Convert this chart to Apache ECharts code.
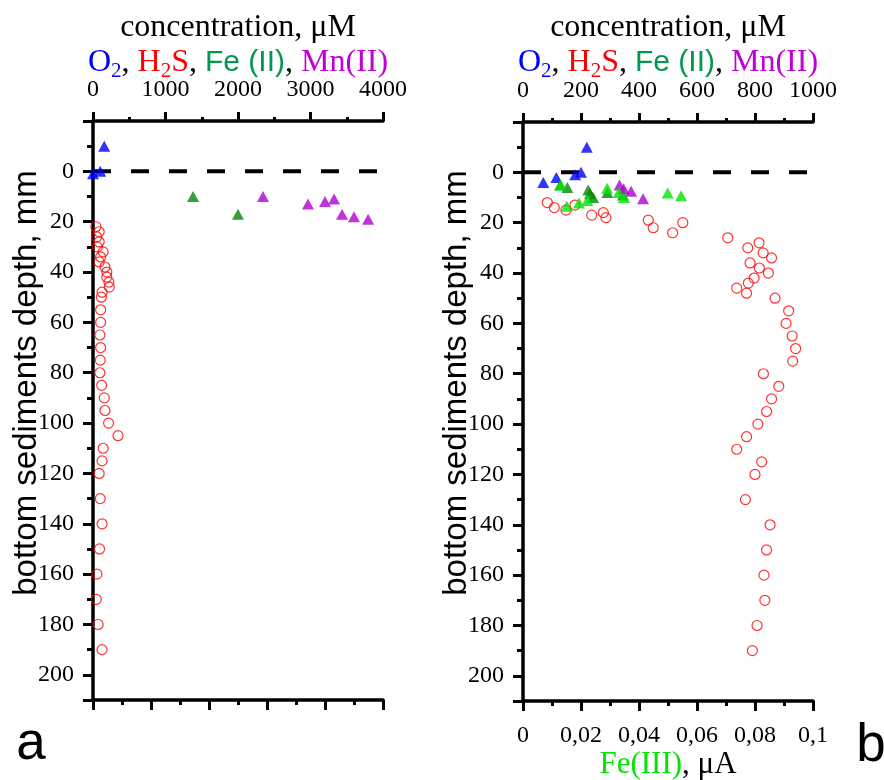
<!DOCTYPE html>
<html>
<head>
<meta charset="utf-8">
<script src="https://cdn.jsdelivr.net/npm/echarts@6/dist/echarts.min.js"></script>
<style>
  html, body { margin: 0; padding: 0; background: #fff; }
  #chart { width: 884px; height: 780px; }
</style>
</head>
<body>
<div id="chart"></div>
<script>
// panel a: [concentration uM, depth mm]
const o2A = [[0, 1], [100, 0], [155, -10]]
const feA = [[1380, 10], [2000, 17]]
const mnA = [[2345, 10], [2965, 13], [3200, 12], [3325, 11], [3435, 17], [3600, 18], [3795, 19]]
const h2sA = [[40, 22], [85, 24], [50, 26], [85, 28], [60, 30], [140, 32], [105, 34], [85, 36], [165, 38],
  [190, 40], [190, 42], [220, 44], [225, 46], [125, 48], [115, 50], [105, 55], [105, 60], [95, 65],
  [105, 70], [100, 75], [95, 80], [120, 85], [155, 90], [165, 95], [215, 100], [345, 105], [140, 110],
  [125, 115], [85, 120], [100, 130], [125, 140], [90, 150], [55, 160], [45, 170], [70, 180], [125, 190]]

// panel b
const o2B = [[70, 4], [115, 2], [180, 1], [200, 0], [220, -10]]
const feB = [[128, 5], [153, 6], [225, 7], [231, 8.5], [242, 10], [291, 8], [345, 9]]
const mnB = [[333, 5], [347, 6.5], [373, 7.5], [414, 10.5]]
const fe3B = [[0.013, 5], [0.0151, 13.5], [0.0193, 12.2], [0.0222, 11.2], [0.029, 6.3], [0.033, 8],
  [0.0348, 10], [0.0499, 8.2], [0.0545, 9.3]]
const h2sB = [[84, 12], [108, 14], [148, 15], [179, 13], [237, 17], [277, 16], [286, 18], [432, 19],
  [449, 22], [516, 24], [551, 20], [706, 26], [775, 30], [814, 28], [828, 32], [857, 34], [783, 36],
  [815, 38], [846, 40], [797, 42], [777, 44], [737, 46], [771, 48], [869, 50], [916, 55], [907, 60],
  [928, 65], [940, 70], [930, 75], [829, 80], [882, 85], [857, 90], [840, 95], [810, 100], [771, 105],
  [737, 110], [823, 115], [800, 120], [767, 130], [852, 140], [840, 150], [831, 160], [834, 170],
  [807, 180], [791, 190]]

const surfaceA = [[0, 0], [4000, 0]]
const surfaceB = [[0, 0], [1000, 0]]

const serif = 'Liberation Serif'
const sans = 'Liberation Sans'
const C_O2 = '#0000ff', C_H2S = '#ff0000', C_FE = '#008a00', C_FE3 = '#00e600', C_MN = '#b000d0'

const lineS = { show: true, onZero: false, lineStyle: { color: '#000', width: 3.5 } }

function topAxis(grid, max, interval) {
  return {
    gridIndex: grid, type: 'value', position: 'top', min: 0, max: max, interval: interval,
    axisLine: lineS,
    axisTick: { show: true, length: 9, lineStyle: { color: '#000', width: 3 } },
    minorTick: { show: true, splitNumber: 2, length: 4, lineStyle: { color: '#000', width: 3 } },
    axisLabel: { color: '#000', fontFamily: serif, fontSize: 24, margin: 19, formatter: v => String(v) },
    splitLine: { show: false }
  }
}
function bottomAxis(grid, labels) {
  return {
    gridIndex: grid, type: 'value', position: 'bottom', min: 0, max: 0.1, interval: 0.02,
    axisLine: lineS,
    axisTick: { show: true, length: 10, lineStyle: { color: '#000', width: 3 } },
    minorTick: { show: true, splitNumber: 2, length: 5, lineStyle: { color: '#000', width: 3 } },
    axisLabel: {
      show: labels, color: '#000', fontFamily: serif, fontSize: 24, margin: 23,
      formatter: v => String(+v.toFixed(3)).replace('.', ',')
    },
    splitLine: { show: false }
  }
}
function depthAxis(grid) {
  return {
    gridIndex: grid, type: 'value', position: 'left', inverse: true, min: -20, max: 210, interval: 20,
    axisLine: lineS,
    axisTick: { show: true, length: 10, lineStyle: { color: '#000', width: 3 } },
    axisLabel: {
      color: '#000', fontFamily: serif, fontSize: 24, margin: 19,
      formatter: v => (v >= 0 && v <= 200 ? String(v) : '')
    },
    splitLine: { show: false }
  }
}
function depthMinor(grid) {
  return {
    gridIndex: grid, type: 'value', position: 'left', inverse: true, min: -20, max: 210, interval: 10,
    axisLine: { show: false, onZero: false },
    axisTick: { show: true, length: 6, lineStyle: { color: '#000', width: 3 } },
    axisLabel: { show: false },
    splitLine: { show: false }
  }
}

function circles(x, y, data) {
  return {
    type: 'scatter', xAxisIndex: x, yAxisIndex: y, data: data, symbol: 'circle', symbolSize: 10,
    itemStyle: { color: 'rgba(255,255,255,0)', borderColor: C_H2S, borderWidth: 1.2 }, z: 3
  }
}
function tri(x, y, data, color) {
  return {
    type: 'scatter', xAxisIndex: x, yAxisIndex: y, data: data, symbol: 'triangle', symbolSize: [12, 11],
    itemStyle: { color: color }, z: 4
  }
}
function surface(x, y, data) {
  return {
    type: 'line', xAxisIndex: x, yAxisIndex: y, data: data, symbol: 'none', silent: true,
    lineStyle: { color: '#000', width: 4, type: [18, 20] }, z: 2
  }
}

function legendText(cx) {
  return {
    type: 'text', x: cx, y: 63,
    style: {
      text: '{o|O}{s|2}{k|, }{h|H}{hs|2}{h|S}{k|, }{f|Fe (II)}{k|, }{m|Mn(II)}',
      align: 'center', verticalAlign: 'middle',
      rich: {
        o: { fontFamily: serif, fontSize: 32, fill: C_O2, lineHeight: 38 },
        s: { fontFamily: serif, fontSize: 21, fill: C_O2, lineHeight: 20, verticalAlign: 'bottom' },
        k: { fontFamily: serif, fontSize: 32, fill: '#000', lineHeight: 38 },
        h: { fontFamily: serif, fontSize: 32, fill: C_H2S, lineHeight: 38 },
        hs: { fontFamily: serif, fontSize: 21, fill: C_H2S, lineHeight: 20, verticalAlign: 'bottom' },
        f: { fontFamily: sans, fontSize: 30, fill: '#00994d', lineHeight: 38 },
        m: { fontFamily: serif, fontSize: 32, fill: '#c000d8', lineHeight: 38 }
      }
    }
  }
}
function titleText(cx) {
  return {
    type: 'text', x: cx, y: 28,
    style: { text: 'concentration, μM', fontFamily: serif, fontSize: 32, fill: '#000', align: 'center', verticalAlign: 'middle' }
  }
}
function depthName(cx) {
  return {
    type: 'text', x: cx, y: 383, rotation: Math.PI / 2,
    style: { text: 'bottom sediments depth, mm', fontFamily: sans, fontSize: 33, fill: '#000', align: 'center', verticalAlign: 'middle' }
  }
}

const chart = echarts.init(document.getElementById('chart'))
chart.setOption({
  animation: false,
  backgroundColor: '#fff',
  grid: [
    { left: 93, top: 121, width: 290, height: 579 },
    { left: 523, top: 122, width: 290, height: 579 }
  ],
  xAxis: [topAxis(0, 4000, 1000), bottomAxis(0, false), topAxis(1, 1000, 200), bottomAxis(1, true)],
  yAxis: [depthAxis(0), depthMinor(0), depthAxis(1), depthMinor(1)],
  series: [
    surface(0, 0, surfaceA),
    circles(0, 0, h2sA),
    tri(0, 0, o2A, C_O2),
    tri(0, 0, feA, C_FE),
    tri(0, 0, mnA, C_MN),
    surface(2, 2, surfaceB),
    circles(2, 2, h2sB),
    tri(2, 2, o2B, C_O2),
    tri(2, 2, feB, C_FE),
    tri(2, 2, mnB, C_MN),
    tri(3, 2, fe3B, C_FE3)
  ],
  graphic: [
    titleText(238), titleText(668),
    legendText(238), legendText(668),
    depthName(27), depthName(457),
    {
      type: 'text', x: 668, y: 765,
      style: {
        text: '{g|Fe(III)}{k|, μA}', align: 'center', verticalAlign: 'middle',
        rich: {
          g: { fontFamily: serif, fontSize: 31, fill: C_FE3 },
          k: { fontFamily: serif, fontSize: 31, fill: '#000' }
        }
      }
    },
    { type: 'text', x: 31, y: 744, style: { text: 'a', fontFamily: sans, fontSize: 53, fill: '#000', align: 'center', verticalAlign: 'middle' } },
    { type: 'text', x: 871, y: 746, style: { text: 'b', fontFamily: sans, fontSize: 53, fill: '#000', align: 'center', verticalAlign: 'middle' } }
  ]
})
</script>
</body>
</html>
